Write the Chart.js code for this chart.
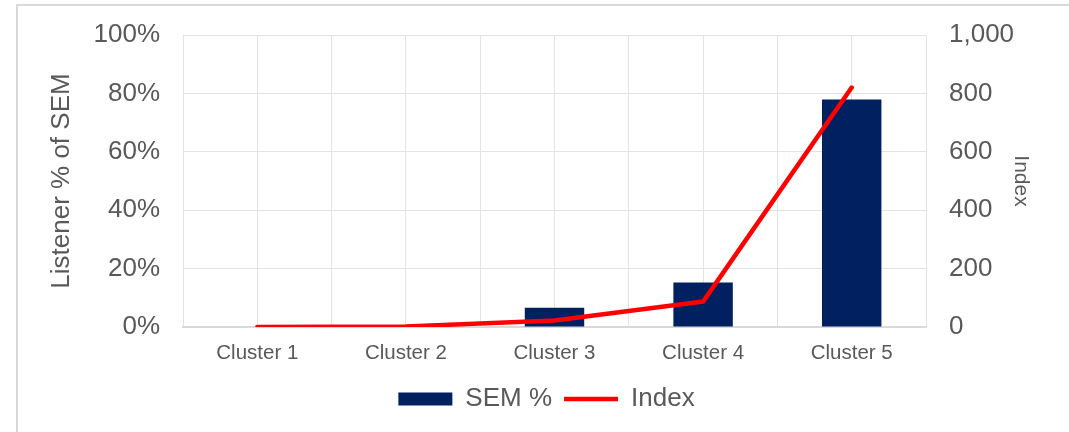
<!DOCTYPE html>
<html>
<head>
<meta charset="utf-8">
<script src="https://cdn.jsdelivr.net/npm/chart.js@4"></script>
<style>
  html, body { margin: 0; padding: 0; background: #ffffff; overflow: hidden; }
  #frame {
    position: absolute; left: 16px; top: 4px; width: 1100px; height: 500px;
    border: 2px solid #d9d9d9; box-sizing: border-box;
  }
  #wrap { position: absolute; left: 0; top: 0; width: 1069px; height: 432px; }
</style>
</head>
<body>
<div id="frame"></div>
<div id="wrap"><canvas id="chart"></canvas></div>
<script>
const categories = ['Cluster 1', 'Cluster 2', 'Cluster 3', 'Cluster 4', 'Cluster 5'];
const semPercent = [0, 0, 6.6, 15.2, 77.9];
const indexValues = [0, 2, 22, 87, 820];

const textColor = '#595959';
const gridColor = '#e3e3e3';

Chart.defaults.font.family = '"Liberation Sans", Arial, sans-serif';
Chart.defaults.color = textColor;

const defaultLabels = Chart.defaults.plugins.legend.labels.generateLabels;

// fixed axis width, and no extra room asked for the end labels
function fixWidth(width) {
  return scale => {
    scale.width = width;
    scale.paddingTop = 0;
    scale.paddingBottom = 0;
  };
}

new Chart(document.getElementById('chart'), {
  type: 'bar',
  data: {
    labels: categories,
    datasets: [
      {
        label: 'SEM %',
        data: semPercent,
        backgroundColor: '#002060',
        borderWidth: 0,
        barPercentage: 0.4,
        categoryPercentage: 1,
        yAxisID: 'y',
        order: 2
      },
      {
        type: 'line',
        label: 'Index',
        data: indexValues,
        borderColor: '#ff0000',
        backgroundColor: '#ff0000',
        borderWidth: 4.5,
        borderCapStyle: 'round',
        borderJoinStyle: 'round',
        pointRadius: 0,
        tension: 0,
        yAxisID: 'y1',
        order: 1
      }
    ]
  },
  options: {
    responsive: true,
    maintainAspectRatio: false,
    animation: false,
    layout: { padding: { top: 35, left: 24, right: 0, bottom: 10 } },
    plugins: {
      tooltip: { enabled: false },
      legend: {
        position: 'bottom',
        labels: {
          color: textColor,
          font: { size: 26 },
          usePointStyle: true,
          pointStyleWidth: 54,
          boxHeight: 13,
          padding: 12,
          sort: (a, b) => a.datasetIndex - b.datasetIndex,
          generateLabels: chart => defaultLabels(chart).map(item => {
            item.pointStyle = item.datasetIndex === 0 ? 'rect' : 'line';
            return item;
          })
        }
      }
    },
    scales: {
      x: {
        offset: true,
        grid: { display: false, drawTicks: false },
        border: { display: true, color: '#d9d9d9', width: 2 },
        ticks: { color: textColor, font: { size: 20.5 }, padding: 14 },
        afterFit: scale => { scale.height = 47; }
      },
      // half-category grid, as in the original
      xg: {
        type: 'linear',
        position: 'bottom',
        min: 0,
        max: 10,
        offset: false,
        ticks: { display: false, stepSize: 1 },
        grid: { color: gridColor, drawTicks: false, offset: false },
        border: { display: false },
        afterFit: scale => { scale.height = 0; }
      },
      y: {
        position: 'left',
        min: 0,
        max: 100,
        ticks: {
          stepSize: 20,
          color: textColor,
          font: { size: 26 },
          padding: 23,
          callback: v => v + '%'
        },
        grid: { color: gridColor, drawTicks: false },
        border: { display: false },
        title: {
          display: true,
          text: 'Listener % of SEM',
          color: textColor,
          font: { size: 26 },
          padding: { top: 22, bottom: 0 }
        },
        afterFit: fixWidth(159)
      },
      y1: {
        position: 'right',
        min: 0,
        max: 1000,
        ticks: {
          stepSize: 200,
          color: textColor,
          font: { size: 26 },
          padding: 23,
          callback: v => v.toLocaleString('en-US')
        },
        grid: { display: false, drawTicks: false },
        border: { display: false },
        title: {
          display: true,
          text: 'Index',
          color: textColor,
          font: { size: 21 },
          padding: { top: 36, bottom: 0 }
        },
        afterFit: fixWidth(143)
      }
    }
  }
});
</script>
</body>
</html>
